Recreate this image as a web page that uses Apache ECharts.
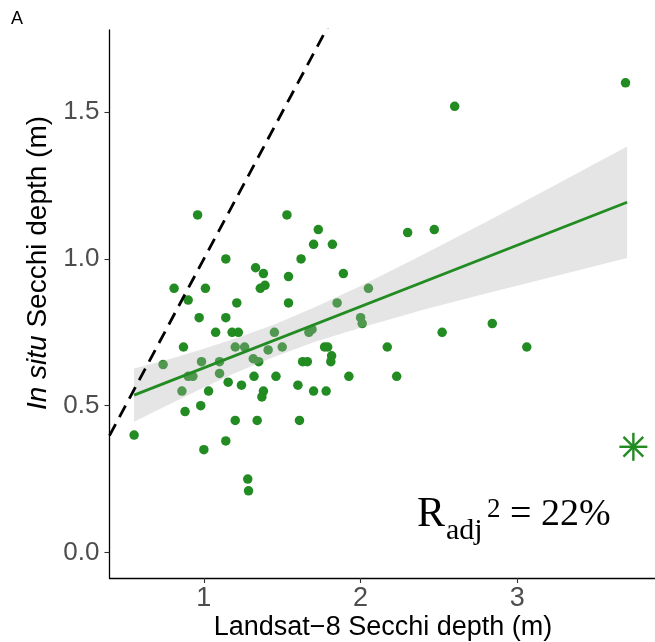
<!DOCTYPE html>
<html>
<head>
<meta charset="utf-8">
<script src="https://cdn.jsdelivr.net/npm/echarts@6/dist/echarts.min.js"></script>
<style>html,body{margin:0;padding:0;background:#fff;}#c{width:655px;height:642px;}</style>
</head>
<body>
<div id="c"></div>
<script>
// Landsat-8 Secchi depth (x) vs in situ Secchi depth (y)
const satX = [3.69,2.60,2.30,2.47,2.84,2.52,3.06,2.17,2.23,
  1.53,1.73,1.70,1.82,1.62,1.33,1.38,1.54,1.89,1.36,1.39,
  1.54,2.05,1.85,2.00,2.01,1.45,1.67,1.69,1.41,1.50,1.77,1.79,
  0.96,1.14,0.81,1.01,0.90,1.21,0.97,1.14,1.075,1.18,1.22,0.87,1.20,1.26,
  0.74,0.985,1.10,0.90,0.93,1.10,0.86,1.03,1.155,1.24,1.32,1.315,0.88,0.98,
  0.555,1.20,1.14,1.00,1.28,1.285,1.34,1.35,1.46,1.38,
  1.37,1.63,1.66,1.815,1.81,1.60,1.70,1.78,1.925,1.61];
const inSituY = [1.60,1.52,1.09,1.10,0.78,0.75,0.70,0.70,0.60,
  1.15,1.10,1.05,1.05,1.00,0.97,0.95,0.94,0.95,0.90,0.91,
  0.85,0.90,0.85,0.80,0.78,0.75,0.75,0.76,0.69,0.70,0.70,0.70,
  1.15,1.00,0.90,0.90,0.86,0.85,0.80,0.80,0.75,0.75,0.75,0.70,0.70,0.70,
  0.64,0.65,0.65,0.60,0.60,0.61,0.55,0.55,0.58,0.57,0.60,0.66,0.48,0.50,
  0.40,0.45,0.38,0.35,0.25,0.21,0.45,0.65,0.60,0.55,
  0.53,0.65,0.65,0.67,0.65,0.57,0.55,0.55,0.60,0.45];
// highlighted point (asterisk)
const starX = 3.74, starY = 0.36;
// fitted regression line (ends)
const fitX = [0.555, 3.70];
const fitY = [0.536, 1.193];
// confidence band
const bandX    = [0.555, 0.8,   1.0,   1.2,   1.45,  1.7,   2.0,   2.4,   2.8,   3.2,   3.70];
const bandLow  = [0.445, 0.510, 0.562, 0.611, 0.667, 0.716, 0.766, 0.827, 0.882, 0.936, 1.003];
const bandHigh = [0.627, 0.662, 0.694, 0.729, 0.777, 0.834, 0.908, 1.015, 1.126, 1.240, 1.383];
// 1:1 line
const oneToOne = [0.398, 1.80];
// axes
const xTicks = [1, 2, 3];
const yTicks = [0, 0.5, 1.0, 1.5];
const xRange = [0.398, 3.878];
const yRange = [-0.087, 1.780];

const GREEN = '#228B22';
const FONT = 'Liberation Sans';
const chart = echarts.init(document.getElementById('c'));

chart.setOption({
  animation: false,
  backgroundColor: '#fff',
  grid: {left: 109.5, right: 0, top: 30, bottom: 64},
  xAxis: {
    type: 'value', min: xRange[0], max: xRange[1],
    splitLine: {show: false},
    axisLine: {show: true, onZero: false, lineStyle: {color: '#000', width: 1.3}},
    axisTick: {show: true, customValues: xTicks, length: 5, lineStyle: {color: '#333', width: 1.1}},
    axisLabel: {customValues: xTicks, fontSize: 27, color: '#4d4d4d', fontFamily: FONT, margin: 7,
      formatter: v => String(v)}
  },
  yAxis: {
    type: 'value', min: yRange[0], max: yRange[1],
    splitLine: {show: false},
    axisLine: {show: true, onZero: false, lineStyle: {color: '#000', width: 1.3}},
    axisTick: {show: true, customValues: yTicks, length: 5, lineStyle: {color: '#333', width: 1.1}},
    axisLabel: {customValues: yTicks, fontSize: 26, color: '#4d4d4d', fontFamily: FONT, margin: 10,
      formatter: v => v.toFixed(1)}
  },
  series: [
    {
      type: 'scatter', z: 2,
      data: satX.map((x, i) => [x, inSituY[i]]),
      symbolSize: 9.5,
      itemStyle: {color: GREEN, opacity: 1}
    },
    {
      type: 'custom', z: 3, clip: true,
      data: [[bandX[0], bandLow[0]]],
      renderItem: function (params, api) {
        const pts = [];
        for (let i = 0; i < bandX.length; i++) pts.push(api.coord([bandX[i], bandHigh[i]]));
        for (let i = bandX.length - 1; i >= 0; i--) pts.push(api.coord([bandX[i], bandLow[i]]));
        return {type: 'polygon', shape: {points: pts}, style: {fill: 'rgba(175,175,175,0.33)'}};
      }
    },
    {
      type: 'line', z: 4, symbol: 'none',
      data: fitX.map((x, i) => [x, fitY[i]]),
      lineStyle: {color: GREEN, width: 2.8}
    },
    {
      type: 'line', z: 5, symbol: 'none', clip: true,
      data: oneToOne.map(v => [v, v]),
      lineStyle: {color: '#000', width: 2.8, type: [13, 8]}
    },
    {
      type: 'custom', z: 6,
      data: [[starX, starY]],
      renderItem: function (params, api) {
        const c = api.coord([api.value(0), api.value(1)]);
        const r = 14, d = r * Math.SQRT1_2;
        const seg = (x1, y1, x2, y2) => ({type: 'line', shape: {x1: c[0] + x1, y1: c[1] + y1, x2: c[0] + x2, y2: c[1] + y2},
          style: {stroke: GREEN, lineWidth: 2.4}});
        return {type: 'group', children: [
          seg(-r, 0, r, 0), seg(0, -r, 0, r), seg(-d, -d, d, d), seg(-d, d, d, -d)
        ]};
      }
    }
  ],
  graphic: [
    {type: 'text', left: 11, top: 10, style: {text: 'A', font: '18px "Liberation Sans"', fill: '#000'}},
    {type: 'text', x: 383, y: 628, style: {text: 'Landsat\u22128 Secchi depth (m)', font: '27px "Liberation Sans"', fill: '#000', align: 'center', verticalAlign: 'middle'}},
    {type: 'text', x: 38, y: 263, rotation: Math.PI / 2,
      style: {text: '{i|In situ} Secchi depth (m)', font: '28px "Liberation Sans"', fill: '#000', align: 'center', verticalAlign: 'middle',
        rich: {i: {fontStyle: 'italic', fontSize: 28, fontFamily: FONT, fill: '#000'}}}},
    {type: 'text', x: 417, y: 536, style: {text: 'R', font: '42px "Liberation Serif"', fill: '#000', align: 'left', verticalAlign: 'bottom'}},
    {type: 'text', x: 446, y: 546, style: {text: 'adj', font: '30px "Liberation Serif"', fill: '#000', align: 'left', verticalAlign: 'bottom'}},
    {type: 'text', x: 487, y: 523, style: {text: '2', font: '27px "Liberation Serif"', fill: '#000', align: 'left', verticalAlign: 'bottom'}},
    {type: 'text', x: 510, y: 534, style: {text: '= 22%', font: '38px "Liberation Serif"', fill: '#000', align: 'left', verticalAlign: 'bottom'}}
  ]
});
</script>
</body>
</html>
